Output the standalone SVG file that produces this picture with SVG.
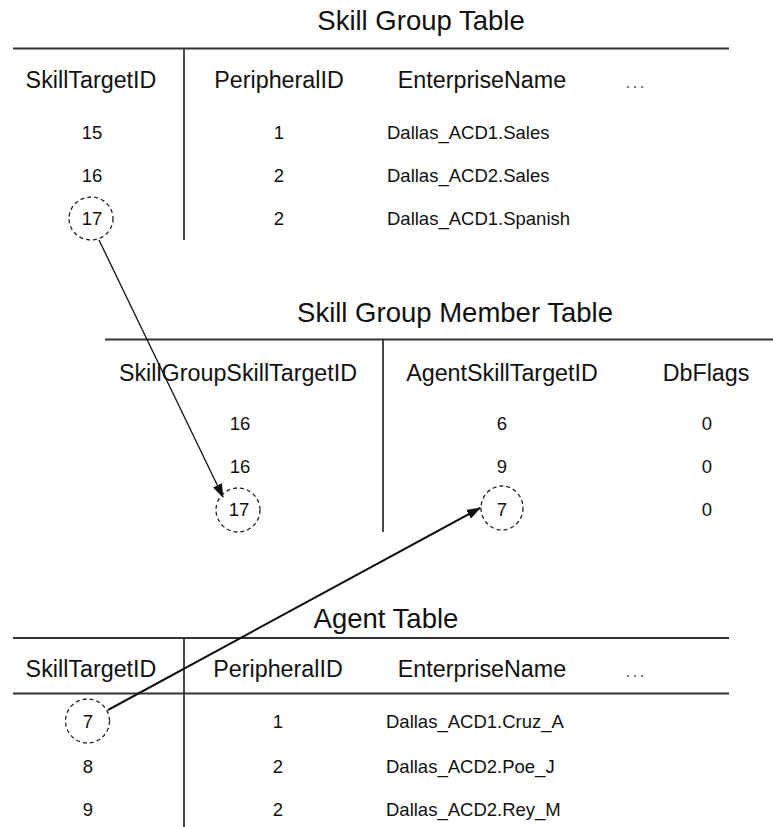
<svg xmlns="http://www.w3.org/2000/svg" width="773" height="827" viewBox="0 0 773 827">
<style>
text{font-family:"Liberation Sans",Arial,sans-serif;fill:#111}
.title{font-size:27.5px;text-anchor:middle}
.hdr{font-size:23.3px;text-anchor:middle}
.cell{font-size:18.5px;text-anchor:middle}
.name{font-size:18.5px;text-anchor:start}
.dots{font-size:18px;text-anchor:middle;fill:#666;letter-spacing:2px}
.rule{stroke:#333;stroke-width:1.8;fill:none}
.hl{fill:none;stroke:#222;stroke-width:1.3;stroke-dasharray:4 3}
.conn{stroke:#111;fill:none}
</style>
<defs>
<marker id="ah" markerWidth="14" markerHeight="10" refX="13" refY="5" orient="auto" markerUnits="userSpaceOnUse">
<path d="M0,0 L14,5 L0,10 Z" fill="#111"/>
</marker>
</defs>
<rect width="773" height="827" fill="#fff"/>

<g id="skill-group-table">
<text class="title" x="421" y="30">Skill Group Table</text>
<line class="rule" x1="13" y1="48.5" x2="729" y2="48.5"/>
<line class="rule" x1="184" y1="48.5" x2="184" y2="240"/>
<text class="hdr" x="91" y="88">SkillTargetID</text>
<text class="hdr" x="279" y="88">PeripheralID</text>
<text class="hdr" x="482" y="88">EnterpriseName</text>
<text class="dots" x="636" y="88">...</text>
<text class="cell" x="92" y="139">15</text>
<text class="cell" x="279" y="139">1</text>
<text class="name" x="387" y="139">Dallas_ACD1.Sales</text>
<text class="cell" x="92" y="182">16</text>
<text class="cell" x="279" y="182">2</text>
<text class="name" x="387" y="182">Dallas_ACD2.Sales</text>
<text class="cell" x="92" y="225">17</text>
<text class="cell" x="279" y="225">2</text>
<text class="name" x="387" y="225">Dallas_ACD1.Spanish</text>
<ellipse class="hl" cx="91" cy="218.5" rx="22" ry="21.5"/>
</g>

<g id="skill-group-member-table">
<text class="title" x="455" y="322">Skill Group Member Table</text>
<line class="rule" x1="105" y1="339.5" x2="773" y2="339.5"/>
<line class="rule" x1="383" y1="339.5" x2="383" y2="532"/>
<text class="hdr" x="238" y="381">SkillGroupSkillTargetID</text>
<text class="hdr" x="502" y="381">AgentSkillTargetID</text>
<text class="hdr" x="706" y="381">DbFlags</text>
<text class="cell" x="240" y="430">16</text>
<text class="cell" x="502" y="430">6</text>
<text class="cell" x="707" y="430">0</text>
<text class="cell" x="240" y="473">16</text>
<text class="cell" x="502" y="473">9</text>
<text class="cell" x="707" y="473">0</text>
<text class="cell" x="239" y="516">17</text>
<text class="cell" x="502" y="516">7</text>
<text class="cell" x="707" y="516">0</text>
<ellipse class="hl" cx="238" cy="510" rx="22" ry="22"/>
<ellipse class="hl" cx="502" cy="508" rx="21" ry="22"/>
</g>

<g id="agent-table">
<text class="title" x="386" y="628">Agent Table</text>
<line class="rule" x1="13" y1="638" x2="729" y2="638"/>
<line class="rule" x1="13" y1="693.5" x2="729" y2="693.5"/>
<line class="rule" x1="184" y1="638" x2="184" y2="827"/>
<text class="hdr" x="91" y="677">SkillTargetID</text>
<text class="hdr" x="278" y="677">PeripheralID</text>
<text class="hdr" x="482" y="677">EnterpriseName</text>
<text class="dots" x="636" y="677">...</text>
<text class="cell" x="88" y="728">7</text>
<text class="cell" x="278" y="728">1</text>
<text class="name" x="386" y="728">Dallas_ACD1.Cruz_A</text>
<text class="cell" x="88" y="773">8</text>
<text class="cell" x="278" y="773">2</text>
<text class="name" x="386" y="773">Dallas_ACD2.Poe_J</text>
<text class="cell" x="88" y="816">9</text>
<text class="cell" x="278" y="816">2</text>
<text class="name" x="386" y="816">Dallas_ACD2.Rey_M</text>
<ellipse class="hl" cx="87.5" cy="721" rx="22" ry="22"/>
</g>

<g id="connectors">
<line class="conn" stroke-width="1.3" x1="99" y1="240" x2="223" y2="497" marker-end="url(#ah)"/>
<line class="conn" stroke-width="2" x1="108" y1="710" x2="480" y2="508" marker-end="url(#ah)"/>
</g>
</svg>
